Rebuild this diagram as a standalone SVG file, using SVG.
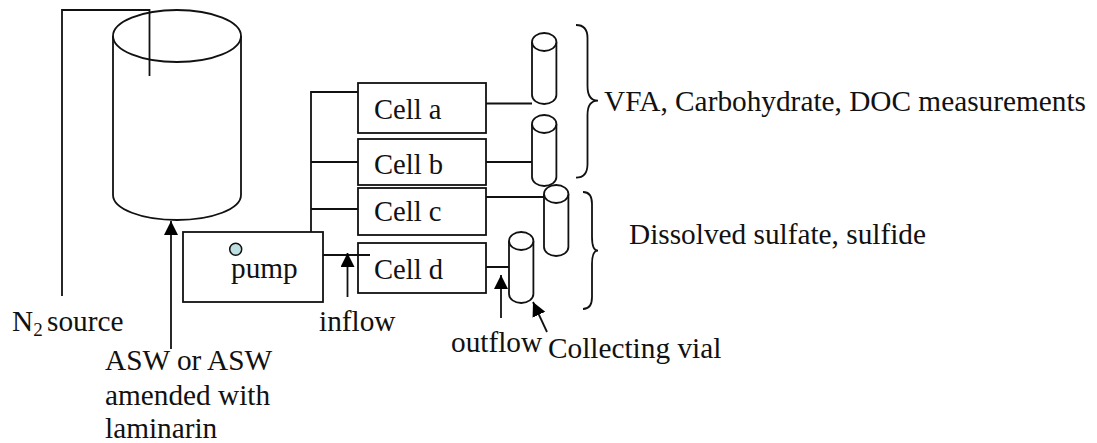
<svg xmlns="http://www.w3.org/2000/svg" width="1097" height="443" viewBox="0 0 1097 443">
<style>
.s{fill:none;stroke:#111;stroke-width:1.8}
.b{fill:#fff;stroke:#111;stroke-width:1.8}
text{font-family:"Liberation Serif","Times New Roman",serif;font-size:29.3px;fill:#111}
.c{font-size:28.6px}
</style>
<defs>
<marker id="a" markerUnits="userSpaceOnUse" markerWidth="14" markerHeight="15" refX="14" refY="7" orient="auto"><path d="M0 0L14 7L0 14Z" fill="#000"/></marker>
<g id="vial"><path class="b" d="M0 9V62A12.2 9 0 0 0 24.4 62V9"/><ellipse class="b" cx="12.2" cy="9" rx="12.2" ry="9"/></g>
</defs>
<rect width="1097" height="443" fill="#fff"/>
<g id="tank"><path class="s" d="M113 36V195C113 209 142 220 177 220S241 209 241 195V36"/><ellipse class="s" cx="177" cy="36" rx="64" ry="26"/></g>
<g id="connectors" class="s">
<path d="M62 296V10H149.5V76"/>
<path d="M311 232V92H358M311 162H358M311 209H358"/>
<path d="M323 255H370"/>
<path d="M486 103.5H532M486 162H532M486 197H544M486 267H509"/>
<path d="M171 349V221" marker-end="url(#a)"/>
<path d="M347.5 297V253" marker-end="url(#a)"/>
<path d="M501 318V275" marker-end="url(#a)"/>
<path d="M547 332L533 302" marker-end="url(#a)"/>
</g>
<g id="pump"><rect class="s" x="183" y="232" width="140" height="70"/><circle cx="235.700" cy="249.300" r="6" fill="#bfe0e2" stroke="#111" stroke-width="1.500"/><text x="231" y="278">pump</text></g>
<g id="cell-a"><rect class="s" x="358" y="83" width="128" height="50"/><text class="c" x="374" y="119">Cell a</text></g>
<g id="cell-b"><rect class="s" x="358" y="139" width="128" height="46"/><text class="c" x="374" y="174">Cell b</text></g>
<g id="cell-c"><rect class="s" x="358" y="188" width="128" height="47"/><text class="c" x="374" y="221">Cell c</text></g>
<g id="cell-d"><rect class="s" x="358" y="243" width="128" height="50"/><text class="c" x="374" y="279">Cell d</text></g>
<g id="vial-a"><use href="#vial" x="532" y="33"/></g>
<g id="vial-b"><use href="#vial" x="532" y="115"/></g>
<g id="vial-c"><use href="#vial" x="544" y="185"/></g>
<g id="vial-d"><use href="#vial" x="509" y="232"/></g>
<g id="brace-1"><path class="s" d="M576 25C584 25 587.500 29 587.500 38V86C587.500 95 591 100.700 598 100.700C591 100.700 587.500 106 587.500 115V164C587.500 173 584 177.700 576 177.700"/></g>
<g id="brace-2"><path class="s" d="M583 192C589 192 592 196 592 204V237C592 245 594 250.700 598 250.700C594 250.700 592 256 592 264V297C592 305 589 309 583 309"/></g>
<g id="labels">
<text x="12" y="331">N<tspan font-size="19" dy="5">2</tspan><tspan dy="-5" x="47">source</tspan></text>
<text x="105" y="370">ASW or ASW</text>
<text x="105" y="405">amended with</text>
<text x="105" y="438">laminarin</text>
<text x="319" y="331">inflow</text>
<text x="451" y="352">outflow</text>
<text x="548" y="358">Collecting vial</text>
<text x="604" y="111">VFA, Carbohydrate, DOC measurements</text>
<text x="629" y="244">Dissolved sulfate, sulfide</text>
</g>
</svg>
